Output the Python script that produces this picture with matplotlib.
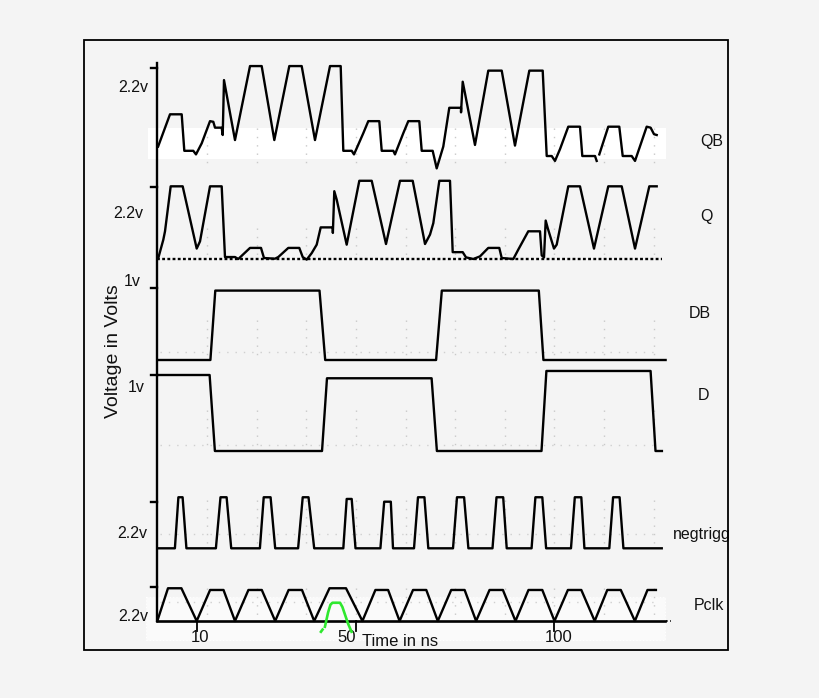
import matplotlib
matplotlib.use('Agg')
import matplotlib.pyplot as plt
import numpy as np
from matplotlib.patches import Rectangle

plt.rcParams['font.family'] = ['Liberation Sans', 'DejaVu Sans']

# ---------------- data (time in ns, voltage in V) ----------------
signal_names = ['QB', 'Q', 'DB', 'D', 'negtrigg', 'Pclk']
ref_labels = ['2.2v', '2.2v', '1v', '1v', '2.2v', '2.2v']
ref_volts = [2.2, 2.2, 1.0, 1.0, 2.2, 2.2]

qb_t = [0.2, 3.2, 6.14, 6.8, 9.06, 9.74, 11.18, 13.27, 14.10, 14.53, 16.21, 16.47, 16.79,
        19.56, 23.34, 26.28, 29.46, 33.23, 36.35, 39.70, 43.48, 46.17, 46.83, 48.94, 49.52,
        51.86, 53.12, 55.89, 56.50, 59.42, 59.84, 61.93, 63.19, 65.96, 66.57, 69.33, 70.34,
        72.00, 73.51, 76.46, 76.47, 76.89, 77.47, 79.98, 83.33, 86.71, 90.05, 93.66, 97.03,
        98.04, 99.30, 100.12, 101.38, 103.47, 106.42, 107.0, 110.2, 110.62, np.nan, 111.28,
        113.54, 116.31, 117.17, 119.43, 120.27, 123.21, 124.2, 125.05, 125.73]
qb_v = [-0.22, 0.77, 0.77, -0.35, -0.35, -0.46, -0.12, 0.56, 0.54, 0.36, 0.36, 0.135, 1.82,
        -0.02, 2.25, 2.25, -0.02, 2.25, 2.25, -0.02, 2.25, 2.25, -0.35, -0.35, -0.46,
        0.19, 0.56, 0.56, -0.35, -0.35, -0.46, 0.19, 0.56, 0.56, -0.35, -0.35, -0.89,
        -0.22, 0.97, 0.97, 0.83, 1.77, 1.41, -0.17, 2.11, 2.11, -0.19, 2.11, 2.11,
        -0.51, -0.51, -0.66, -0.30, 0.39, 0.39, -0.51, -0.51, -0.66, np.nan, -0.46,
        0.39, 0.39, -0.51, -0.51, -0.66, 0.39, 0.36, 0.16, 0.135]

q_t = [0.25, 1.51, 1.94, 3.37, 6.39, 9.92, 10.75, 13.27, 16.21, 17.04, 19.56, 20.39, 23.34,
       26.11, 26.86, 29.63, 30.46, 32.98, 35.75, 36.61, 37.61, 38.87, 40.13, 41.14, 44.16,
       44.2, 44.56, 45.17, 47.68, 50.86, 53.98, 57.58, 61.10, 64.30, 67.40, 68.66, 69.49,
       71.0, 73.69, 74.37, 76.89, 77.72, 79.56, 81.24, 83.33, 86.10, 86.71, 89.63, 90.89,
       93.40, 96.35, 96.78, 97.36, 97.78, 98.29, 99.87, 100.55, 103.47, 106.42, 109.94,
       113.54, 116.92, 120.27, 123.87, 125.73]
q_v = [0.03, 0.59, 0.85, 2.23, 2.23, 0.32, 0.54, 2.23, 2.23, 0.06, 0.06, 0.0, 0.34,
       0.34, 0.03, 0.01, 0.06, 0.34, 0.34, 0.06, -0.02, 0.18, 0.44, 0.97, 0.97,
       0.80, 2.08, 1.82, 0.44, 2.40, 2.40, 0.46, 2.40, 2.40, 0.46, 0.75, 1.10,
       2.40, 2.40, 0.21, 0.21, 0.05, 0.0, 0.08, 0.34, 0.34, 0.03, 0.0, 0.29,
       0.85, 0.85, 0.11, 0.05, 1.18, 0.95, 0.32, 0.44, 2.23, 2.23, 0.32,
       2.23, 2.23, 0.32, 2.23, 2.23]
q_ref_end = 127.1

db_t = [0, 13.37, 14.60, 40.84, 42.27, 70.19, 71.63, 96.05, 97.21, 127.97]
db_v = [0, 0, 0.96, 0.96, 0, 0, 0.96, 0.96, 0, 0]

d_t = [0, 13.17, 14.50, 41.47, 42.72, 69.06, 70.39, 96.73, 97.96, 124.19, 125.43, 127.04]
d_v = [1.0, 1.0, 0, 0, 0.957, 0.957, 0, 0, 1.053, 1.053, 0, 0]

neg_rise_start = [4.43, 14.75, 25.83, 35.45, 46.83, 56.17, 64.63, 74.45, 84.39, 94.23, 104.15, 113.80]
neg_rise_end = [5.31, 15.91, 26.79, 36.61, 47.68, 57.12, 65.63, 75.45, 85.40, 95.19, 105.11, 114.75]
neg_fall_start = [6.37, 17.45, 28.52, 38.07, 48.94, 58.79, 67.25, 77.24, 87.08, 96.93, 106.75, 116.39]
neg_fall_end = [7.33, 18.61, 29.68, 39.50, 49.90, 59.34, 68.23, 78.32, 87.97, 97.89, 107.53, 117.35]
neg_peak = [2.41, 2.41, 2.41, 2.41, 2.33, 2.2, 2.41, 2.41, 2.41, 2.41, 2.41, 2.41]
neg_end = 127.0

pclk_t = [0, 2.69, 6.07, 9.92, 13.29, 16.67, 19.56, 22.94, 26.31, 29.68, 33.06, 36.43,
          39.50, 43.35, 47.51, 51.64, 54.91, 58.11, 61.00, 64.38, 67.72, 70.62, 73.99,
          77.37, 80.26, 83.64, 87.01, 90.18, 93.45, 96.93, 100.00, 103.37, 106.75,
          110.12, 113.29, 116.69, 120.24, 123.41, 125.53]
pclk_v = [0, 2.10, 2.10, 0, 1.99, 1.99, 0, 1.99, 1.99, 0, 1.99, 1.99, 0, 2.10, 2.10,
          0, 1.99, 1.99, 0, 1.99, 1.99, 0, 1.99, 1.99, 0, 1.99, 1.99, 0, 1.99, 1.99,
          0, 1.99, 1.99, 0, 1.99, 1.99, 0, 1.99, 1.99]
pclk_end = 127.8

green_t = [41.2, 41.6, np.nan, 42.2, 43.0, 43.6, 44.1, 46.0, 46.6, 47.4, 48.0, 48.9]
green_v = [-0.69, -0.55, np.nan, -0.37, 0.55, 1.05, 1.17, 1.17, 0.9, 0.3, -0.15, -0.69]

x_ticks = [10, 50, 100]
x_tick_labels = ['10', '50', '100']

# ---------------- layout (pixel rows of the canvas) ----------------
W, H = 820, 698
PX0, PXS = 157.3, 3.972          # pixel column of t=0, pixels per ns


def px2t(px):
    return (px - PX0) / PXS


layout = {
    'QB': dict(base=139.4, ref=67.7, lab=(148.3, 88), name=(711.5, 141.6)),
    'Q': dict(base=259.0, ref=187.3, lab=(143.5, 213), name=(706, 216)),
    'DB': dict(base=360.0, ref=287.7, lab=(141, 281), name=(700, 313)),
    'D': dict(base=451.0, ref=375.0, lab=(145, 387), name=(704, 395)),
    'negtrigg': dict(base=548.3, ref=501.7, lab=(147, 533.5), name=(672.5, 535)),
    'Pclk': dict(base=621.0, ref=586.7, lab=(148, 616.5), name=(708.5, 605)),
}
tick_label_px = {10: 199.7, 50: 346.3, 100: 559}
time_label_px = 361.7


def yrow(name, v):
    L = layout[name]
    vref = ref_volts[signal_names.index(name)]
    return L['base'] - np.asarray(v, dtype=float) / vref * (L['base'] - L['ref'])


BG = '#f4f4f4'
fig = plt.figure(figsize=(W / 100, H / 100), dpi=100, facecolor=BG)
ax = fig.add_axes([0, 0, 1, 1])
ax.set_xlim(px2t(0), px2t(W))
ax.set_ylim(H, 0)
ax.axis('off')
ax.set_facecolor(BG)

LW = 1.7
K = 'black'
TXT = '#111111'

# white boxes behind QB and Pclk
ax.add_patch(Rectangle((px2t(148), 127.7), px2t(666) - px2t(148), 31.3,
                       facecolor='white', edgecolor='none', zorder=0))
ax.add_patch(Rectangle((px2t(146), 597), px2t(665) - px2t(146), 43,
                       facecolor='#fafafa', edgecolor='white', lw=0.8, ls=(0, (1, 2)), zorder=0))

# faint dotted grid
grid_rows = {'QB': (128, 165), 'Q': (228, 260), 'DB': (320, 360), 'D': (410, 451),
             'negtrigg': (500, 548), 'Pclk': (588, 621)}
for nm, (r0, r1) in grid_rows.items():
    for gt in np.arange(12.5, 126, 12.5):
        ax.plot([gt, gt], [r0, r1], color='#c9c9c9', lw=1.0, ls=(0, (1, 5)), zorder=0.5)
for nm, off in [('DB', 8), ('D', 6), ('negtrigg', 14), ('Pclk', 19)]:
    r = layout[nm]['base'] - off
    ax.plot([px2t(160), px2t(660)], [r, r], color='#d0d0d0', lw=1.0, ls=(0, (1, 5)), zorder=0.5)

# left axis line and reference ticks
ax.plot([0, 0], [63, 621], color=K, lw=LW, zorder=3)
for nm, lab in zip(signal_names, ref_labels):
    L = layout[nm]
    ax.plot([px2t(151.5), 0], [L['ref'], L['ref']], color=K, lw=LW, zorder=3)
    ax.text(px2t(L['lab'][0]), L['lab'][1], lab, ha='right', va='center', fontsize=11.5, color=TXT)

# signals
ax.plot(qb_t, yrow('QB', qb_v), color=K, lw=LW, zorder=3)
ax.plot(q_t, yrow('Q', q_v), color=K, lw=LW, zorder=3)
ax.plot([0, q_ref_end], [layout['Q']['base']] * 2, color=K, lw=1.7, ls=(0, (1.2, 1.0)), zorder=2)
ax.plot(db_t, yrow('DB', db_v), color=K, lw=LW, zorder=3)
ax.plot(d_t, yrow('D', d_v), color=K, lw=LW, zorder=3)

nt, nv = [0], [0]
for a, b, c, d, p in zip(neg_rise_start, neg_rise_end, neg_fall_start, neg_fall_end, neg_peak):
    nt += [a, b, c, d]
    nv += [0, p, p, 0]
nt.append(neg_end)
nv.append(0)
ax.plot(nt, yrow('negtrigg', nv), color=K, lw=LW, zorder=3)

ax.plot([0, pclk_end], [layout['Pclk']['base']] * 2, color=K, lw=1.9, zorder=3)
ax.plot([pclk_end + 0.3, pclk_end + 1.6], [layout['Pclk']['base']] * 2, color=K, lw=1.2,
        ls=(0, (1, 1.5)), zorder=3)
ax.plot(pclk_t, yrow('Pclk', pclk_v), color=K, lw=LW, zorder=3)
ax.plot(green_t, yrow('Pclk', green_v), color='#2ee82e', lw=1.9, zorder=4)

# x ticks
base = layout['Pclk']['base']
for xt, xl in zip(x_ticks, x_tick_labels):
    ax.plot([xt, xt], [base, base + 10], color=K, lw=1.3, zorder=3)
    ax.text(px2t(tick_label_px[xt]), 637.5, xl, ha='center', va='center', fontsize=12, color=TXT)
ax.text(px2t(time_label_px), 641.5, 'Time in ns', ha='left', va='center', fontsize=12, color=TXT)

ax.text(px2t(113.5), 351, 'Voltage in Volts', rotation=90, ha='center', va='center',
        fontsize=14, color=TXT)

# frame
frame = Rectangle((px2t(84), 40), px2t(727.7) - px2t(84), 610, facecolor='none',
                  edgecolor=K, lw=1.3, zorder=5)
ax.add_patch(frame)

# signal names
for nm in signal_names:
    L = layout[nm]
    ha = 'left' if nm == 'negtrigg' else 'center'
    txt = ax.text(px2t(L['name'][0]), L['name'][1], nm, ha=ha, va='center', fontsize=11.5,
                  color=TXT)
    txt.set_clip_path(frame)

fig.savefig('out.png', dpi=100, facecolor=BG)
